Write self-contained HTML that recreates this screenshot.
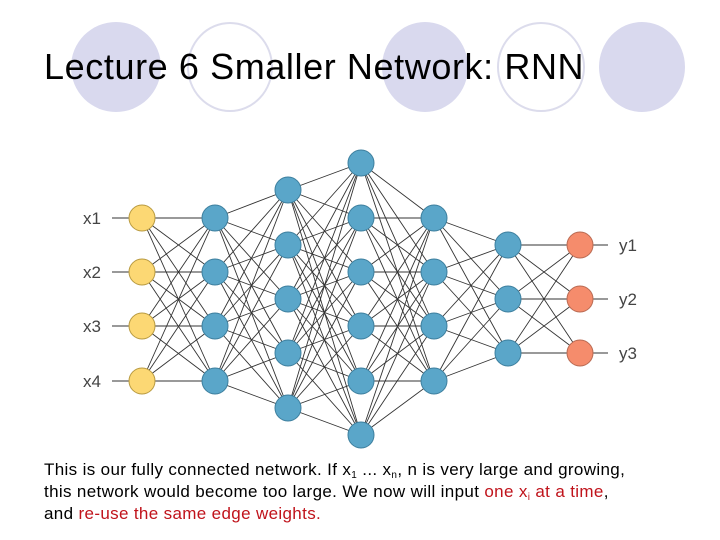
<!DOCTYPE html>
<html><head><meta charset="utf-8"><style>
html,body{margin:0;padding:0;background:#fff}
body{width:720px;height:540px;position:relative;overflow:hidden;font-family:"Liberation Sans",sans-serif}
.t{position:absolute;left:44px;top:46px;font-size:36px;color:#000;letter-spacing:0.6px;white-space:nowrap}
.b{position:absolute;left:44px;top:459px;font-size:17px;line-height:22px;color:#000;letter-spacing:0.35px;white-space:nowrap}
.r{color:#c0131b}
sub{font-size:10px;vertical-align:-3px;line-height:0}
</style></head><body>
<svg width="720" height="540" style="position:absolute;left:0;top:0">
<ellipse cx="116" cy="67" rx="45" ry="45" fill="#d9d9ee"/>
<ellipse cx="230" cy="67" rx="42" ry="44" fill="none" stroke="#dcdcec" stroke-width="2"/>
<ellipse cx="425" cy="67" rx="43" ry="45" fill="#d9d9ee"/>
<ellipse cx="541" cy="67" rx="43" ry="44" fill="none" stroke="#dcdcec" stroke-width="2"/>
<ellipse cx="642" cy="67" rx="43" ry="45" fill="#d9d9ee"/>
<g stroke="#333" stroke-width="0.9" fill="none">
<path d="M112 218H129M112 272H129M112 326H129M112 381H129M593 245H608M593 299H608M593 353H608"/>
<path d="M142 218L215 218M142 218L215 272M142 218L215 326M142 218L215 381M142 272L215 218M142 272L215 272M142 272L215 326M142 272L215 381M142 326L215 218M142 326L215 272M142 326L215 326M142 326L215 381M142 381L215 218M142 381L215 272M142 381L215 326M142 381L215 381"/>
<path d="M215 218L288 190M215 218L288 245M215 218L288 299M215 218L288 353M215 218L288 408M215 272L288 190M215 272L288 245M215 272L288 299M215 272L288 353M215 272L288 408M215 326L288 190M215 326L288 245M215 326L288 299M215 326L288 353M215 326L288 408M215 381L288 190M215 381L288 245M215 381L288 299M215 381L288 353M215 381L288 408"/>
<path d="M288 190L361 163M288 190L361 218M288 190L361 272M288 190L361 326M288 190L361 381M288 190L361 435M288 245L361 163M288 245L361 218M288 245L361 272M288 245L361 326M288 245L361 381M288 245L361 435M288 299L361 163M288 299L361 218M288 299L361 272M288 299L361 326M288 299L361 381M288 299L361 435M288 353L361 163M288 353L361 218M288 353L361 272M288 353L361 326M288 353L361 381M288 353L361 435M288 408L361 163M288 408L361 218M288 408L361 272M288 408L361 326M288 408L361 381M288 408L361 435"/>
<path d="M361 163L434 218M361 163L434 272M361 163L434 326M361 163L434 381M361 218L434 218M361 218L434 272M361 218L434 326M361 218L434 381M361 272L434 218M361 272L434 272M361 272L434 326M361 272L434 381M361 326L434 218M361 326L434 272M361 326L434 326M361 326L434 381M361 381L434 218M361 381L434 272M361 381L434 326M361 381L434 381M361 435L434 218M361 435L434 272M361 435L434 326M361 435L434 381"/>
<path d="M434 218L508 245M434 218L508 299M434 218L508 353M434 272L508 245M434 272L508 299M434 272L508 353M434 326L508 245M434 326L508 299M434 326L508 353M434 381L508 245M434 381L508 299M434 381L508 353"/>
<path d="M508 245L580 245M508 245L580 299M508 245L580 353M508 299L580 245M508 299L580 299M508 299L580 353M508 353L580 245M508 353L580 299M508 353L580 353"/>
</g>
<g fill="#fcd874" stroke="#b89a40" stroke-width="1">
<circle cx="142" cy="218" r="13"/><circle cx="142" cy="272" r="13"/><circle cx="142" cy="326" r="13"/><circle cx="142" cy="381" r="13"/>
</g>
<g fill="#5aa6c9" stroke="#3d7f9e" stroke-width="1">
<circle cx="215" cy="218" r="13"/><circle cx="215" cy="272" r="13"/><circle cx="215" cy="326" r="13"/><circle cx="215" cy="381" r="13"/>
<circle cx="288" cy="190" r="13"/><circle cx="288" cy="245" r="13"/><circle cx="288" cy="299" r="13"/><circle cx="288" cy="353" r="13"/><circle cx="288" cy="408" r="13"/>
<circle cx="361" cy="163" r="13"/><circle cx="361" cy="218" r="13"/><circle cx="361" cy="272" r="13"/><circle cx="361" cy="326" r="13"/><circle cx="361" cy="381" r="13"/><circle cx="361" cy="435" r="13"/>
<circle cx="434" cy="218" r="13"/><circle cx="434" cy="272" r="13"/><circle cx="434" cy="326" r="13"/><circle cx="434" cy="381" r="13"/>
<circle cx="508" cy="245" r="13"/><circle cx="508" cy="299" r="13"/><circle cx="508" cy="353" r="13"/>
</g>
<g fill="#f58c6c" stroke="#b96a52" stroke-width="1">
<circle cx="580" cy="245" r="13"/><circle cx="580" cy="299" r="13"/><circle cx="580" cy="353" r="13"/>
</g>
<g font-family="Liberation Sans, sans-serif" font-size="17" fill="#444">
<text x="83" y="224">x1</text><text x="83" y="278">x2</text><text x="83" y="332">x3</text><text x="83" y="387">x4</text>
<text x="619" y="251">y1</text><text x="619" y="305">y2</text><text x="619" y="359">y3</text>
</g>
</svg>
<div class="t">Lecture 6 Smaller Network: RNN</div>
<div class="b">This is our fully connected network. If x<sub>1</sub> ... x<sub>n</sub>, n is very large and growing,<br>this network would become too large. We now will input <span class="r">one x<sub>i</sub> at a time</span>,<br>and <span class="r">re-use the same edge weights.</span></div>
</body></html>
